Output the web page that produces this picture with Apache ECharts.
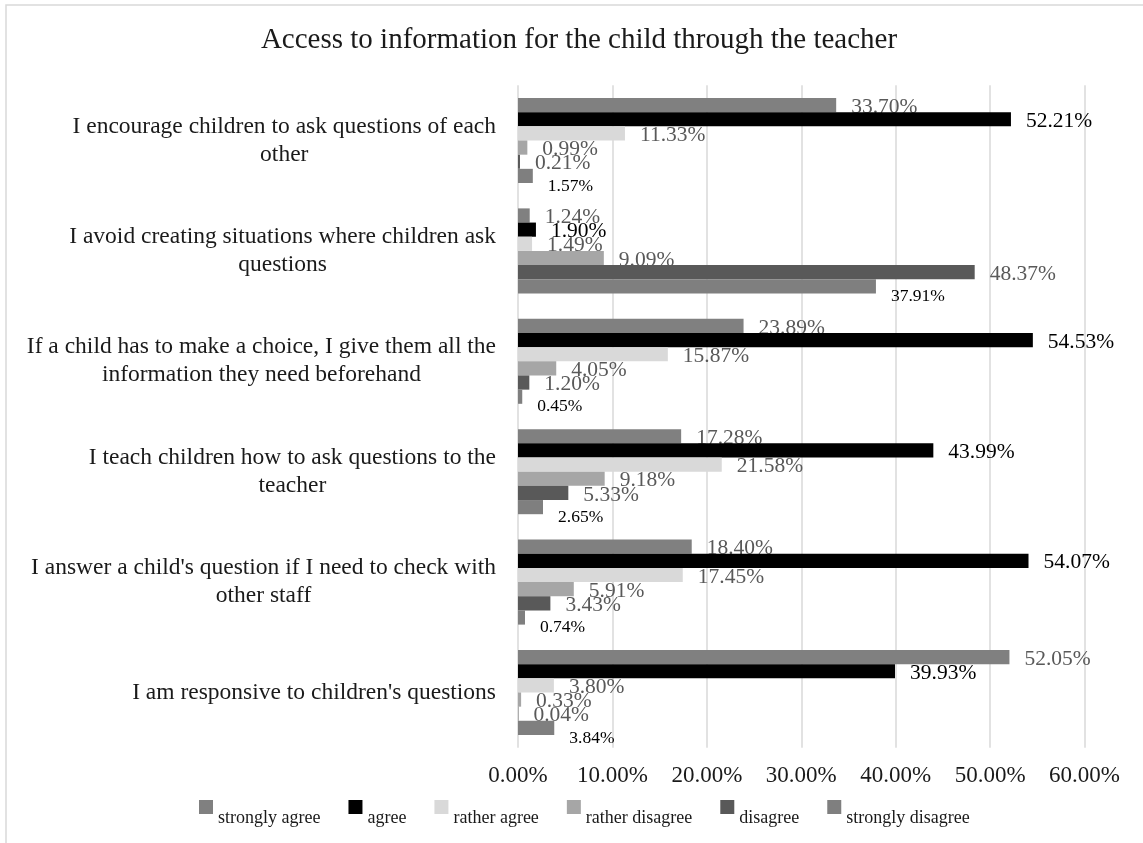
<!DOCTYPE html>
<html>
<head>
<meta charset="utf-8">
<title>Access to information for the child through the teacher</title>
<script src="https://cdn.jsdelivr.net/npm/echarts@6/dist/echarts.min.js"></script>
<style>
  html, body { margin: 0; padding: 0; background: #fff; }
  #chart { width: 1143px; height: 843px; }
</style>
</head>
<body>
<div id="chart"></div>
<script>
// Survey statements (top to bottom), wrapped onto two lines where needed
const statements = [
  "I encourage children to ask questions of each\nother",
  "I avoid creating situations where children ask\nquestions",
  "If a child has to make a choice, I give them all the\ninformation they need beforehand",
  "I teach children how to ask questions to the\nteacher",
  "I answer a child's question if I need to check with\nother staff",
  "I am responsive to children's questions"
];

// Answer shares in percent, one array per answer option
const stronglyAgree    = [33.70, 1.24, 23.89, 17.28, 18.40, 52.05];
const agree            = [52.21, 1.90, 54.53, 43.99, 54.07, 39.93];
const ratherAgree      = [11.33, 1.49, 15.87, 21.58, 17.45, 3.80];
const ratherDisagree   = [0.99, 9.09, 4.05, 9.18, 5.91, 0.33];
const disagree         = [0.21, 48.37, 1.20, 5.33, 3.43, 0.04];
const stronglyDisagree = [1.57, 37.91, 0.45, 2.65, 0.74, 3.84];

const answerNames = ["strongly agree", "agree", "rather agree", "rather disagree", "disagree", "strongly disagree"];
const answerValues = [stronglyAgree, agree, ratherAgree, ratherDisagree, disagree, stronglyDisagree];

// Value axis range (percent)
const axisMin = 0;
const axisMax = 60;
const axisStep = 10;

const serif = "'Liberation Serif', 'Times New Roman', serif";
const barColors = ['#808080', '#000000', '#d9d9d9', '#a6a6a6', '#595959', '#7f7f7f'];
const labelColors = ['#595959', '#000000', '#595959', '#595959', '#595959', '#000000'];

const fmtPct = v => v.toFixed(2) + '%';

const series = answerNames.map((name, i) => {
  const last = i === answerNames.length - 1;
  return {
    name: name,
    type: 'bar',
    data: answerValues[i],
    z: 2 + i,
    barGap: '0%',
    barCategoryGap: '23%',
    itemStyle: { color: barColors[i] },
    label: {
      show: true,
      position: 'right',
      distance: 15,
      offset: last ? [0, 10] : [0, 2],
      formatter: p => fmtPct(p.value),
      fontFamily: serif,
      fontSize: last ? 17.5 : 21.5,
      color: labelColors[i]
    },
    emphasis: { disabled: true }
  };
});

const chart = echarts.init(document.getElementById('chart'), null, { renderer: 'canvas' });

chart.setOption({
  backgroundColor: '#ffffff',
  animation: false,
  title: {
    text: 'Access to information for the child through the teacher',
    left: 579,
    textAlign: 'center',
    top: 26,
    padding: 0,
    textStyle: { fontFamily: serif, fontSize: 29, fontWeight: 'normal', color: '#1a1a1a' }
  },
  graphic: [{
    type: 'rect',
    silent: true,
    shape: { x: 6, y: 5, width: 1200, height: 900 },
    style: { fill: 'none', stroke: '#d9d9d9', lineWidth: 1.5 }
  }],
  legend: {
    left: 199,
    top: 785,
    padding: 0,
    itemWidth: 14,
    itemHeight: 14,
    itemGap: 28,
    icon: 'rect',
    selectedMode: false,
    // legend names sit a little below their swatches
    formatter: name => '\n' + name,
    textStyle: { fontFamily: serif, fontSize: 18, lineHeight: 22, color: '#1a1a1a' },
    data: answerNames
  },
  grid: { left: 518, right: 58.5, top: 85.3, bottom: 95.3, containLabel: false },
  xAxis: {
    type: 'value',
    min: axisMin,
    max: axisMax,
    interval: axisStep,
    axisLine: { show: false },
    axisTick: { show: false },
    splitLine: { show: true, lineStyle: { color: '#d9d9d9', width: 1.5 } },
    axisLabel: {
      margin: 17,
      formatter: v => fmtPct(v),
      fontFamily: serif,
      fontSize: 23,
      color: '#1a1a1a'
    }
  },
  yAxis: {
    type: 'category',
    inverse: true,
    data: statements,
    axisLine: { show: false },
    axisTick: { show: false },
    splitLine: { show: false },
    axisLabel: {
      margin: 22,
      formatter: v => '{c|' + v + '}',
      rich: {
        c: { align: 'center', fontFamily: serif, fontSize: 23.5, lineHeight: 28, color: '#1a1a1a' }
      }
    }
  },
  series: series
});
</script>
</body>
</html>
